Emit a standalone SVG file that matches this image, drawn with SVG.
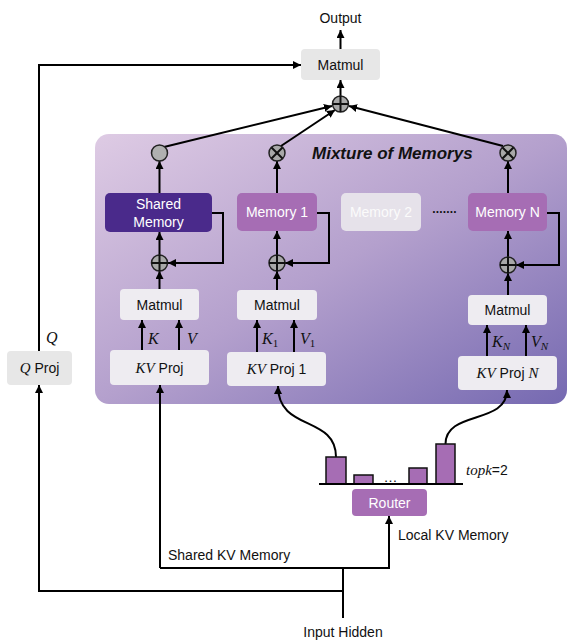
<svg xmlns="http://www.w3.org/2000/svg" xmlns:xlink="http://www.w3.org/1999/xlink" width="568" height="641" viewBox="0 0 568 641">
<style>
.t{font-family:"Liberation Sans",Arial,sans-serif;font-size:14px;fill:#111;}
.m{text-anchor:middle;}
.w{fill:#fff;}
.math{font-family:"Liberation Serif","DejaVu Serif",serif;font-style:italic;font-size:16px;fill:#111;}
.gbox{fill:#e7e7e7;}
.pbox{fill:#eeecf1;}
.ln{fill:none;stroke:#000;stroke-width:2;}
.arr{fill:none;stroke:#000;stroke-width:2;marker-end:url(#ah);}
.sym{fill:#a8a8a8;stroke:#222;stroke-width:1.5;}
.cr{stroke:#111;stroke-width:2;}
.bar{fill:#a66db4;stroke:#111;stroke-width:1.5;}
</style>
<defs>
<marker id="ah" viewBox="0 0 10 10" refX="10" refY="5" markerWidth="8" markerHeight="8" markerUnits="userSpaceOnUse" orient="auto">
<path d="M0,0 L10,5 L0,10 z" fill="#000"/>
</marker>
<linearGradient id="pg" x1="0" y1="0" x2="1" y2="1">
<stop offset="0" stop-color="#decbe4"/>
<stop offset="0.5" stop-color="#b4a0cd"/>
<stop offset="1" stop-color="#7569b1"/>
</linearGradient>
<g id="plus"><circle r="8" class="sym"/><line x1="-8" y1="0" x2="8" y2="0" class="cr"/><line x1="0" y1="-8" x2="0" y2="8" class="cr"/></g>
<g id="times"><circle r="8" class="sym"/><line x1="-5.5" y1="-5.5" x2="5.5" y2="5.5" class="cr"/><line x1="-5.5" y1="5.5" x2="5.5" y2="-5.5" class="cr"/></g>
</defs>

<g id="panel">
<rect x="95" y="134" width="472" height="270" rx="14" fill="url(#pg)"/>
<text x="312" y="159" class="t" style="font-size:17px;font-weight:bold;font-style:italic">Mixture of Memorys</text>
</g>

<g id="connectors">
<!-- top -->
<line x1="340.5" y1="49" x2="340.5" y2="30" class="arr"/>
<line x1="340.5" y1="96" x2="340.5" y2="80" class="arr"/>
<polyline points="39,351 39,65 301,65" class="arr"/>
<line x1="164" y1="147" x2="332" y2="106" class="arr"/>
<line x1="281" y1="146" x2="335" y2="110" class="arr"/>
<line x1="503" y1="146" x2="349" y2="106" class="arr"/>
<!-- shared column -->
<line x1="159.5" y1="193" x2="159.5" y2="161" class="arr"/>
<line x1="159.5" y1="255" x2="159.5" y2="232" class="arr"/>
<polyline points="212,213 223,213 223,263 168,263" class="arr"/>
<line x1="159.5" y1="289" x2="159.5" y2="271" class="arr"/>
<line x1="142" y1="350" x2="142" y2="320" class="arr"/>
<line x1="179" y1="350" x2="179" y2="320" class="arr"/>
<!-- memory 1 column -->
<line x1="277" y1="193" x2="277" y2="161" class="arr"/>
<line x1="277" y1="255" x2="277" y2="231" class="arr"/>
<polyline points="317,213 329,213 329,263 285,263" class="arr"/>
<line x1="277" y1="290" x2="277" y2="271" class="arr"/>
<line x1="257" y1="352" x2="257" y2="320" class="arr"/>
<line x1="294" y1="352" x2="294" y2="320" class="arr"/>
<!-- memory N column -->
<line x1="508" y1="193" x2="508" y2="161" class="arr"/>
<line x1="508" y1="257" x2="508" y2="231" class="arr"/>
<polyline points="547,213 559,213 559,265 516,265" class="arr"/>
<line x1="508" y1="295" x2="508" y2="273" class="arr"/>
<line x1="487" y1="356" x2="487" y2="325" class="arr"/>
<line x1="526" y1="356" x2="526" y2="325" class="arr"/>
<!-- router curves -->
<path d="M336,457 C336,415 278,432 278,386" class="arr"/>
<path d="M445.5,444 C445.5,410 507,425 507,390" class="arr"/>
<!-- bottom -->
<line x1="343" y1="618" x2="343" y2="568" class="ln"/>
<polyline points="343,591 39,591 39,385" class="arr"/>
<polyline points="160,568 160,385" class="arr"/>
<polyline points="160,568 389,568 389,516" class="arr"/>
</g>

<g id="output"><text x="340.5" y="23" class="t m">Output</text></g>
<g id="matmul-top"><rect x="301" y="49" width="79" height="31" rx="4" class="gbox"/><text x="340.5" y="69.5" class="t m">Matmul</text></g>
<g id="sum-top"><use xlink:href="#plus" x="340.5" y="104"/></g>

<g id="q-proj">
<rect x="7" y="351" width="65" height="34" rx="4" class="gbox"/>
<text x="39.5" y="373" class="t m"><tspan class="math" style="font-size:15px">Q</tspan> Proj</text>
<text x="46" y="343" class="math">Q</text>
</g>

<g id="shared">
<circle cx="159.5" cy="153" r="8" class="sym" style="fill:#b0b0b0"/>
<rect x="105" y="193" width="107" height="39" rx="5" fill="#4a2a8b"/>
<text x="158.5" y="209" class="t m w">Shared</text>
<text x="158.5" y="227" class="t m w">Memory</text>
<use xlink:href="#plus" x="159.5" y="263"/>
<rect x="120" y="289" width="79" height="31" rx="4" class="pbox"/>
<text x="159.5" y="309.5" class="t m">Matmul</text>
<text x="148" y="344" class="math">K</text>
<text x="187" y="344" class="math">V</text>
<rect x="110" y="350" width="99" height="35" rx="4" class="pbox"/>
<text x="159.5" y="373" class="t m"><tspan class="math" style="font-size:15px">KV</tspan> Proj</text>
</g>

<g id="memory1">
<use xlink:href="#times" x="277" y="153"/>
<rect x="237" y="193" width="80" height="38" rx="5" fill="#a66db4"/>
<text x="277" y="217" class="t m w">Memory 1</text>
<use xlink:href="#plus" x="277" y="263"/>
<rect x="237" y="290" width="80" height="30" rx="4" class="pbox"/>
<text x="277" y="310" class="t m">Matmul</text>
<text x="262" y="344" class="math">K<tspan style="font-style:normal;font-size:11px" dy="3">1</tspan></text>
<text x="300" y="344" class="math">V<tspan style="font-style:normal;font-size:11px" dy="3">1</tspan></text>
<rect x="227" y="352" width="99" height="34" rx="4" class="pbox"/>
<text x="276.5" y="374" class="t m"><tspan class="math" style="font-size:15px">KV</tspan> Proj 1</text>
</g>

<g id="memory2">
<rect x="341" y="193" width="80" height="38" rx="5" fill="#e6e2ea"/>
<text x="381" y="217" class="t m" style="fill:#fbfbfb">Memory 2</text>
<text x="444.5" y="216" class="t m" style="font-size:12px;font-weight:bold;letter-spacing:-0.5px">·······</text>
</g>

<g id="memoryN">
<use xlink:href="#times" x="508" y="153"/>
<rect x="468" y="193" width="79" height="38" rx="5" fill="#a66db4"/>
<text x="507.5" y="217" class="t m w">Memory N</text>
<use xlink:href="#plus" x="508" y="265"/>
<rect x="468" y="295" width="79" height="30" rx="4" class="pbox"/>
<text x="507.5" y="315" class="t m">Matmul</text>
<text x="492" y="347" class="math">K<tspan style="font-size:11px" dy="3">N</tspan></text>
<text x="531" y="347" class="math">V<tspan style="font-size:11px" dy="3">N</tspan></text>
<rect x="458" y="356" width="99" height="34" rx="4" class="pbox"/>
<text x="507.5" y="378" class="t m"><tspan class="math" style="font-size:15px">KV</tspan> Proj <tspan class="math" style="font-size:15px">N</tspan></text>
</g>

<g id="router">
<rect x="326" y="457" width="20" height="27" class="bar"/>
<rect x="354" y="475" width="19" height="9" class="bar"/>
<text x="390.5" y="482" class="t m">…</text>
<rect x="409" y="468" width="18" height="16" class="bar"/>
<rect x="436" y="444" width="19" height="40" class="bar"/>
<line x1="319" y1="484" x2="463" y2="484" class="ln"/>
<text x="466" y="475" class="math" style="font-size:15px">topk<tspan style="font-style:normal;font-family:'Liberation Sans',Arial,sans-serif;font-size:14px">=2</tspan></text>
<rect x="352" y="489" width="75" height="27" rx="4" fill="#a66db4"/>
<text x="389.5" y="507.5" class="t m w">Router</text>
</g>

<g id="labels">
<text x="398" y="540" class="t">Local KV Memory</text>
<text x="168" y="560" class="t">Shared KV Memory</text>
<text x="343" y="637" class="t m">Input Hidden</text>
</g>
</svg>
